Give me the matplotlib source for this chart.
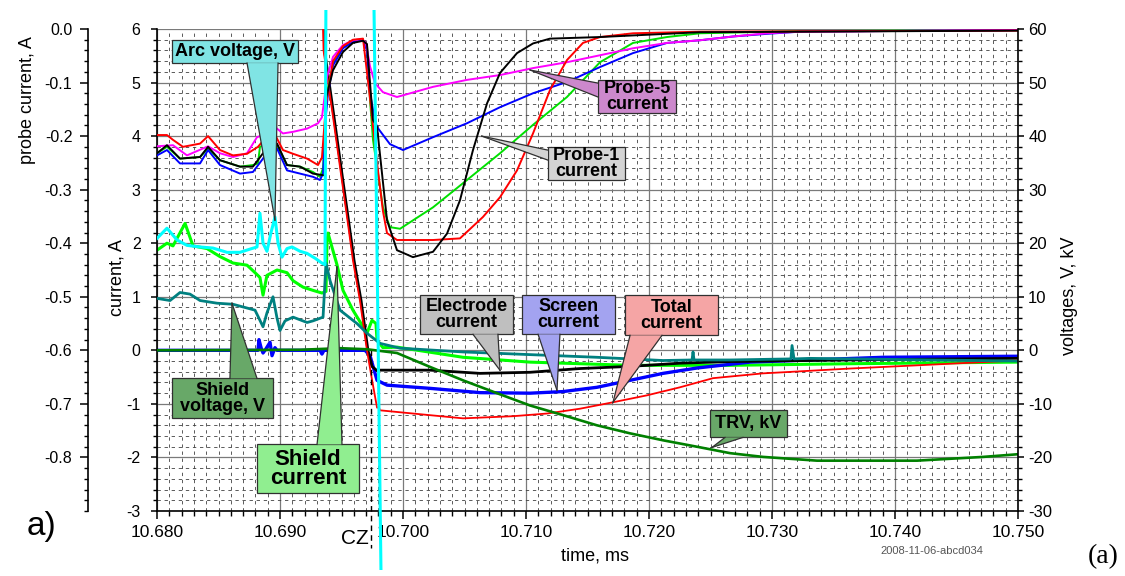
import numpy as np
import matplotlib
matplotlib.use('Agg')
import matplotlib.pyplot as plt
from matplotlib.ticker import MultipleLocator, FormatStrFormatter
from matplotlib.patches import Rectangle, Polygon
from matplotlib.lines import Line2D
from matplotlib.transforms import Bbox, TransformedBbox

plt.rcParams['font.family'] = ['Liberation Sans', 'DejaVu Sans']
plt.rcParams['axes.unicode_minus'] = False

W, H = 1125, 576

# ---- probe currents, A (probe axis) ----
t_pr_red = [10.68000, 10.68081, 10.68130, 10.68211, 10.68350, 10.68415, 10.68512, 10.68618, 10.68732, 10.68821,
            10.68894, 10.68943, 10.69024, 10.69106, 10.69220, 10.69309, 10.69341, 10.69374, 10.69431, 10.69512,
            10.69593, 10.69675, 10.69732, 10.69789, 10.69837, 10.69870, 10.69951, 10.70244, 10.70463, 10.70650,
            10.70789, 10.70927, 10.71057, 10.71195, 10.71333, 10.71463, 10.71602, 10.71870, 10.72415, 10.75]
pr_red = [-0.198, -0.198, -0.207, -0.220, -0.214, -0.200, -0.226, -0.236, -0.233, -0.220,
          -0.200, -0.190, -0.226, -0.233, -0.242, -0.254, -0.240, -0.140, -0.060, -0.032,
          -0.020, -0.018, -0.130, -0.250, -0.340, -0.381, -0.394, -0.394, -0.391, -0.351,
          -0.314, -0.264, -0.195, -0.114, -0.058, -0.026, -0.015, -0.008, -0.005, -0.003]

t_pr_mag = [10.68000, 10.68130, 10.68244, 10.68415, 10.68512, 10.68618, 10.68732, 10.68813, 10.68894, 10.68943,
            10.69024, 10.69106, 10.69220, 10.69309, 10.69341, 10.69366, 10.69382, 10.69431, 10.69512, 10.69593,
            10.69667, 10.69699, 10.69732, 10.69772, 10.69837, 10.69951, 10.70244, 10.70520, 10.70789, 10.71057,
            10.71333, 10.71602, 10.71870, 10.72146, 10.72415, 10.72683, 10.72959, 10.73228, 10.75]
pr_mag = [-0.219, -0.217, -0.236, -0.219, -0.232, -0.239, -0.232, -0.202, -0.195, -0.180,
          -0.195, -0.192, -0.186, -0.176, -0.165, -0.120, -0.090, -0.052, -0.030, -0.021,
          -0.019, -0.026, -0.070, -0.101, -0.118, -0.127, -0.108, -0.095, -0.086, -0.073,
          -0.062, -0.049, -0.036, -0.026, -0.021, -0.014, -0.008, -0.005, -0.002]

t_pr_blue = [10.68000, 10.68081, 10.68187, 10.68350, 10.68415, 10.68512, 10.68675, 10.68780, 10.68862, 10.68919,
             10.68976, 10.69057, 10.69163, 10.69268, 10.69325, 10.69350, 10.69374, 10.69390, 10.69431, 10.69512,
             10.69593, 10.69675, 10.69707, 10.69732, 10.69772, 10.69789, 10.69894, 10.70000, 10.70244, 10.70520,
             10.70789, 10.71057, 10.71333, 10.71602, 10.71870, 10.72146, 10.72415, 10.72683, 10.72959, 10.73228, 10.75]
pr_blue = [-0.236, -0.226, -0.251, -0.251, -0.226, -0.254, -0.270, -0.267, -0.242, -0.220,
           -0.223, -0.264, -0.270, -0.276, -0.282, -0.270, -0.160, -0.120, -0.068, -0.036,
           -0.024, -0.021, -0.040, -0.120, -0.170, -0.183, -0.215, -0.226, -0.202, -0.176,
           -0.146, -0.120, -0.099, -0.071, -0.045, -0.026, -0.021, -0.014, -0.009, -0.005, -0.002]

t_pr_green = [10.68000, 10.68081, 10.68187, 10.68350, 10.68415, 10.68512, 10.68675, 10.68780, 10.68821, 10.68837,
              10.68894, 10.68976, 10.69057, 10.69163, 10.69268, 10.69325, 10.69350, 10.69374, 10.69390, 10.69431,
              10.69512, 10.69593, 10.69675, 10.69707, 10.69732, 10.69756, 10.69789, 10.69837, 10.69894, 10.69976,
              10.70244, 10.70520, 10.70789, 10.71057, 10.71333, 10.71602, 10.71870, 10.72146, 10.72415, 10.73228, 10.75]
pr_green = [-0.232, -0.220, -0.242, -0.239, -0.223, -0.245, -0.257, -0.254, -0.251, -0.220,
            -0.214, -0.217, -0.254, -0.257, -0.267, -0.276, -0.260, -0.150, -0.110, -0.065,
            -0.034, -0.023, -0.021, -0.030, -0.133, -0.207, -0.258, -0.333, -0.370, -0.373,
            -0.333, -0.282, -0.232, -0.179, -0.127, -0.062, -0.026, -0.015, -0.008, -0.004, -0.002]

t_pr_black = [10.68000, 10.68081, 10.68187, 10.68350, 10.68415, 10.68512, 10.68675, 10.68780, 10.68862, 10.68919,
              10.68976, 10.69057, 10.69163, 10.69268, 10.69350, 10.69366, 10.69370, 10.69431, 10.69512, 10.69593,
              10.69675, 10.69707, 10.69732, 10.69756, 10.69789, 10.69870, 10.69951, 10.70081, 10.70244, 10.70358,
              10.70463, 10.70569, 10.70683, 10.70789, 10.70927, 10.71057, 10.71195, 10.71602, 10.71870, 10.72415, 10.75]
pr_black = [-0.232, -0.217, -0.242, -0.239, -0.220, -0.245, -0.257, -0.257, -0.232, -0.207,
            -0.214, -0.254, -0.257, -0.270, -0.273, -0.273, -0.133, -0.077, -0.043, -0.026,
            -0.022, -0.028, -0.101, -0.170, -0.183, -0.357, -0.413, -0.426, -0.416, -0.382,
            -0.320, -0.226, -0.139, -0.082, -0.045, -0.027, -0.018, -0.015, -0.012, -0.006, -0.003]

# ---- currents, A (main axis) ----
t_total = [10.69350, 10.69354, 10.69431, 10.69488, 10.69545, 10.69593, 10.69650, 10.69707, 10.69748, 10.69789,
           10.69805, 10.69813, 10.70081, 10.70488, 10.70894, 10.71171, 10.71439, 10.71707, 10.71984, 10.72252,
           10.72520, 10.72927, 10.73089, 10.73634, 10.74179, 10.74715, 10.75]
i_total = [6.05, 5.6, 4.36, 3.42, 2.49, 1.68, 0.93, 0.0, -0.55, -1.07,
           -1.07, -1.12, -1.18, -1.27, -1.23, -1.18, -1.09, -0.97, -0.84, -0.69,
           -0.52, -0.43, -0.41, -0.34, -0.28, -0.22, -0.19]

t_electrode = [10.69358, 10.69362, 10.69439, 10.69496, 10.69553, 10.69602, 10.69659, 10.69715, 10.69748, 10.69789,
               10.69813, 10.70220, 10.70626, 10.71033, 10.71439, 10.71846, 10.72252, 10.72659, 10.73634, 10.75]
i_electrode = [6.05, 5.6, 4.36, 3.42, 2.49, 1.68, 0.93, 0.0, -0.30, -0.38,
               -0.37, -0.37, -0.43, -0.41, -0.34, -0.30, -0.24, -0.21, -0.18, -0.15]

t_screen = [10.68000, 10.68821, 10.68829, 10.68846, 10.68862, 10.68878, 10.68919, 10.68935, 10.68959, 10.68976,
            10.69325, 10.69341, 10.69358, 10.69691, 10.69732, 10.69789, 10.69870, 10.70220, 10.70626, 10.71033,
            10.71301, 10.71577, 10.71846, 10.72114, 10.72390, 10.72821, 10.73902, 10.75]
i_screen = [0.0, 0.0, 0.2, 0.05, -0.05, 0.0, 0.15, -0.1, 0.05, 0.0,
            0.0, -0.07, 0.0, 0.0, -0.1, -0.56, -0.65, -0.71, -0.79, -0.80,
            -0.77, -0.69, -0.56, -0.43, -0.33, -0.22, -0.13, -0.11]

t_shield = [10.68000, 10.68081, 10.68130, 10.68228, 10.68293, 10.68407, 10.68512, 10.68618, 10.68732, 10.68797,
            10.68837, 10.68862, 10.68894, 10.68976, 10.69057, 10.69106, 10.69187, 10.69268, 10.69341, 10.69374,
            10.69382, 10.69390, 10.69463, 10.69512, 10.69593, 10.69707, 10.69748, 10.69780, 10.69789, 10.69837,
            10.69951, 10.70488, 10.71033, 10.71846, 10.72659, 10.73634, 10.75]
i_shield = [1.87, 2.00, 1.95, 2.37, 1.95, 1.90, 1.75, 1.63, 1.59, 1.45,
            1.36, 1.03, 1.40, 1.50, 1.45, 1.30, 1.18, 1.12, 1.07, 1.10,
            2.00, 2.19, 1.60, 1.12, 0.75, 0.32, 0.56, 0.50, 0.19, 0.05,
            0.06, -0.13, -0.22, -0.28, -0.28, -0.25, -0.22]

# ---- voltages, V / kV (right axis) ----
t_shield_v = [10.68000, 10.68106, 10.68187, 10.68268, 10.68350, 10.68488, 10.68618, 10.68732, 10.68797, 10.68837,
              10.68862, 10.68894, 10.68943, 10.68976, 10.69000, 10.69041, 10.69106, 10.69220, 10.69268, 10.69350,
              10.69374, 10.69407, 10.69488, 10.69626, 10.69707, 10.69813, 10.69976, 10.70488, 10.71577, 10.72114,
              10.72350, 10.72358, 10.72366, 10.72659, 10.73154, 10.73163, 10.73179, 10.73309, 10.75]
v_shield = [9.7, 9.3, 10.8, 10.5, 9.3, 8.8, 8.6, 7.9, 7.5, 5.6,
            4.4, 7.0, 10.0, 6.0, 3.7, 5.5, 6.2, 5.2, 5.5, 6.2,
            16.3, 13.0, 7.5, 5.0, 3.2, 1.3, 0.4, -0.3, -1.3, -1.9,
            -1.8, -0.3, -1.8, -1.8, -1.6, 0.9, -1.6, -1.5, -2.0]

t_arc = [10.68000, 10.68081, 10.68163, 10.68244, 10.68350, 10.68455, 10.68569, 10.68675, 10.68756, 10.68813,
         10.68837, 10.68862, 10.68894, 10.68927, 10.68959, 10.68984, 10.69016, 10.69057, 10.69098, 10.69163,
         10.69220, 10.69285, 10.69341, 10.69366, 10.69374, 10.69761, 10.69823]
v_arc = [20.9, 22.8, 20.6, 19.6, 19.3, 19.1, 18.3, 18.3, 18.9, 19.3,
         25.6, 20.0, 18.5, 22.0, 24.9, 20.0, 17.4, 19.0, 19.3, 18.5,
         18.1, 17.2, 16.3, 16.0, 70.0, 70.0, -45.0]

t_trv = [10.68000, 10.69163, 10.69488, 10.69707, 10.69951, 10.70220, 10.70488, 10.70764, 10.71033, 10.71301,
         10.71577, 10.71846, 10.72114, 10.72390, 10.72659, 10.72927, 10.73366, 10.74179, 10.74715, 10.75]
kv_trv = [0.0, 0.1, 0.4, 0.2, -0.5, -3.1, -5.6, -8.0, -10.3, -12.1,
          -14.0, -15.5, -16.8, -18.0, -19.2, -19.9, -20.6, -20.6, -19.9, -19.4]

t_cz = 10.6974

fig = plt.figure(figsize=(W / 100, H / 100), dpi=100)
ax = fig.add_axes([157 / W, 1 - 511 / H, 861 / W, 482 / H])
ax_p = ax.twinx()
ax_v = ax.twinx()

# main axis
ax.set_xlim(10.68, 10.75)
ax.set_ylim(-3, 6)
ax.xaxis.set_major_locator(MultipleLocator(0.01))
ax.xaxis.set_minor_locator(MultipleLocator(0.001))
ax.xaxis.set_major_formatter(FormatStrFormatter('%.3f'))
ax.yaxis.set_major_locator(MultipleLocator(1))
ax.yaxis.set_minor_locator(MultipleLocator(0.2))
ax.yaxis.set_major_formatter(FormatStrFormatter('%d'))
ax.grid(which='major', color='#7a7a7a', lw=0.9)
ax.grid(which='minor', color='#404040', lw=0.6, ls=(0, (4, 4.5)))
ax.set_axisbelow(True)
ax.tick_params(axis='x', which='major', direction='out', length=5.8, width=1.1, labelsize=12.5, pad=4.5)
ax.tick_params(axis='x', which='minor', direction='out', length=3.6, width=1.0)
ax.tick_params(axis='y', which='major', direction='out', length=4.3, width=1.1, labelsize=11.5, pad=7.5)
ax.tick_params(axis='y', which='minor', direction='out', length=2.9, width=1.0)
for s in ['top', 'right']:
    ax.spines[s].set_visible(False)
for s in ['left', 'bottom']:
    ax.spines[s].set_linewidth(1.2)

# probe axis on far left
ax_p.set_ylim(-0.9, 0.0)
ax_p.yaxis.set_ticks_position('left')
ax_p.spines['left'].set_position(('outward', 69 * 0.72))
ax_p.spines['left'].set_visible(True)
ax_p.spines['left'].set_linewidth(1.2)
for s in ['right', 'top', 'bottom']:
    ax_p.spines[s].set_visible(False)
ax_p.set_yticks(np.arange(0.0, -0.81, -0.1))
ax_p.yaxis.set_minor_locator(MultipleLocator(0.02))
ax_p.yaxis.set_major_formatter(FormatStrFormatter('%.1f'))
ax_p.tick_params(axis='y', which='major', direction='out', length=5.8, width=1.1, labelsize=11.5, pad=5.5)
ax_p.tick_params(axis='y', which='minor', direction='out', length=2.9, width=1.0)

# voltage axis on right
ax_v.set_ylim(-30, 60)
ax_v.yaxis.set_major_locator(MultipleLocator(10))
ax_v.yaxis.set_minor_locator(MultipleLocator(2))
ax_v.yaxis.set_major_formatter(FormatStrFormatter('%d'))
ax_v.spines['right'].set_linewidth(1.2)
for s in ['left', 'top', 'bottom']:
    ax_v.spines[s].set_visible(False)
ax_v.tick_params(axis='y', which='major', direction='out', length=4.3, width=1.1, labelsize=12, pad=3)
ax_v.tick_params(axis='y', which='minor', direction='out', length=2.9, width=1.0)

# currents
ax.plot(t_shield, i_shield, color='#00ff00', lw=2.2)
ax.plot(t_screen, i_screen, color='#0000ff', lw=2.4)
ax.plot(t_electrode, i_electrode, color='black', lw=2.0)
ax.plot(t_total, i_total, color='#ff0000', lw=1.3)

# probes
ax_p.plot(t_pr_green, pr_green, color='#00e000', lw=1.4)
ax_p.plot(t_pr_blue, pr_blue, color='#0000ff', lw=1.4)
ax_p.plot(t_pr_mag, pr_mag, color='#ff00ff', lw=1.4)
ax_p.plot(t_pr_red, pr_red, color='#ff0000', lw=1.4)
ax_p.plot(t_pr_black, pr_black, color='black', lw=1.4)

# voltages
ax_v.plot(t_trv, kv_trv, color='#008000', lw=1.9)
ax_v.plot(t_shield_v, v_shield, color='#008080', lw=2.0)
arc_line, = ax_v.plot(t_arc, v_arc, color='#00ffff', lw=2.2)
arc_line.set_clip_path(None)
arc_line.set_clip_box(TransformedBbox(Bbox([[157 / W, 6 / H], [1018 / W, 566 / H]]), fig.transFigure))

# current zero marker
ax.plot([t_cz, t_cz], [0, -3.7], color='black', lw=1.0, ls=(0, (4, 3)), clip_on=False, zorder=5)


def callout(text, box, base, tip, fc, size=13, ls=0.9):
    x0, y0, x1, y1 = box
    tr = ax.transData
    fig.add_artist(Rectangle((x0, y0), x1 - x0, y1 - y0, transform=tr, fc=fc, ec='#303030',
                             lw=0.9, zorder=20))
    fig.add_artist(Polygon([base[0], base[1], tip], closed=True, transform=tr, fc=fc, ec='none',
                           zorder=21))
    for b in base:
        fig.add_artist(Line2D([b[0], tip[0]], [b[1], tip[1]], transform=tr, color='#303030',
                              lw=0.9, zorder=22))
    fig.text((x0 + x1) / 2, (y0 + y1) / 2, text, transform=tr, ha='center', va='center',
             fontsize=size, fontweight='bold', linespacing=ls, zorder=23)


callout('Arc voltage, V', (10.68122, 5.364, 10.69146, 5.794),
        [(10.68732, 5.364), (10.68984, 5.364)], (10.68959, 2.43), '#80e4e4')
callout('Shield\nvoltage, V', (10.68122, -1.271, 10.68943, -0.523),
        [(10.68593, -0.523), (10.68813, -0.523)], (10.68610, 0.879), '#68a868')
callout('Shield\ncurrent', (10.68813, -2.673, 10.69642, -1.757),
        [(10.69301, -1.757), (10.69504, -1.757)], (10.69463, 1.557), '#90ee90', size=16, ls=0.85)
callout('Electrode\ncurrent', (10.70138, 0.299, 10.70894, 1.028),
        [(10.70569, 0.299), (10.70772, 0.299)], (10.70789, -0.374), '#bfbfbf')
callout('Screen\ncurrent', (10.70967, 0.299, 10.71724, 1.028),
        [(10.71098, 0.299), (10.71276, 0.299)], (10.71252, -0.748), '#a3a3f0')
callout('Total\ncurrent', (10.71805, 0.28, 10.72561, 1.028),
        [(10.71846, 0.28), (10.72106, 0.28)], (10.71707, -0.972), '#f5a5a5')
callout('TRV, kV', (10.72496, -1.626, 10.73122, -1.121),
        [(10.72618, -1.626), (10.72764, -1.626)], (10.72512, -1.813), '#68a868')
callout('Probe-5\ncurrent', (10.71585, 4.430, 10.72220, 5.047),
        [(10.71585, 4.99), (10.71585, 4.73)], (10.71033, 5.234), '#cc88cc')
callout('Probe-1\ncurrent', (10.71179, 3.178, 10.71805, 3.794),
        [(10.71179, 3.738), (10.71179, 3.551)], (10.70640, 4.0), '#d4d4d4')


def ftext(px, py, s, **kw):
    fig.text(px / W, 1 - py / H, s, ha='center', va='center', **kw)


ftext(27, 100, 'probe current, A', rotation=90, fontsize=13)
ftext(117, 278, 'current, A', rotation=90, fontsize=13)
ftext(1070, 296, 'voltages, V, kV', rotation=90, fontsize=13)
ftext(595, 556, 'time, ms', fontsize=13)
ftext(355, 539, 'CZ', fontsize=15)
ftext(42, 526, 'a)', fontsize=24)
ftext(932, 551, '2008-11-06-abcd034', fontsize=8, color='#555555')
ftext(1103, 557, '(a)', fontsize=20, family='Liberation Serif')

fig.savefig('out.png', dpi=100)
